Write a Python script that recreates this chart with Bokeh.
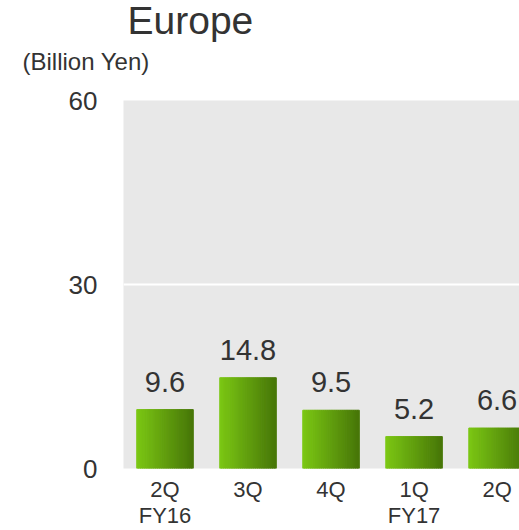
from bokeh.plotting import figure
from bokeh.models import Range1d, FixedTicker, Title, ColumnDataSource
from bokeh.embed import file_html
from bokeh.resources import INLINE

categories = ["2Q\nFY16", "3Q", "4Q", "1Q\nFY17", "2Q"]
values = [9.6, 14.8, 9.5, 5.2, 6.6]
y_ticks = [0, 30, 60]
title_text = "Europe"
unit_text = "(Billion Yen)"

FONT = "Liberation Sans"
TXT = "#333333"

# layout (pixels)
W, H = 519, 530
LEFT = 123
X0, X1, Y0, Y1 = -0.5, 4.27, 0, 60
FRAME_H = 369
px_y = FRAME_H / (Y1 - Y0)

p = figure(width=W, height=H, output_backend="svg", toolbar_location=None,
           x_range=Range1d(X0, X1), y_range=Range1d(Y0, Y1),
           min_border_left=LEFT, min_border_right=0, min_border_top=0, min_border_bottom=0,
           background_fill_color="#e8e8e8", border_fill_color="white", title=None)
p.outline_line_color = None

# gradient bars built from stripes
N = 30
bar_w = 0.68
c0 = (0x7c, 0xc8, 0x14)
c1 = (0x47, 0x76, 0x08)
xs, tops, cols = [], [], []
for i, v in enumerate(values):
    for k in range(N):
        t = (k + 0.5) / N
        xs.append(i - bar_w / 2 + bar_w * t)
        tops.append(v)
        c = tuple(int(round(c0[j] + (c1[j] - c0[j]) * t)) for j in range(3))
        cols.append("#%02x%02x%02x" % c)
src = ColumnDataSource(dict(x=xs, top=tops, color=cols))
p.vbar(x="x", top="top", width=bar_w / N * 1.05, bottom=0, color="color", source=src)

GAP = 28  # px between bar top and label anchor
lab = ColumnDataSource(dict(x=list(range(len(values))), y=[v + GAP / px_y for v in values],
                            t=[f"{v:.1f}" for v in values]))
p.text(x="x", y="y", text="t", source=lab, text_align="center", text_baseline="alphabetic",
       text_font_size="29px", text_color=TXT, text_font={"value": FONT})

p.xgrid.visible = False
p.ygrid.grid_line_color = "white"
p.ygrid.grid_line_width = 2
p.ygrid.ticker = FixedTicker(ticks=y_ticks)

p.yaxis.ticker = FixedTicker(ticks=y_ticks)
p.yaxis.axis_line_color = None
p.yaxis.major_tick_line_color = None
p.yaxis.minor_tick_line_color = None
p.yaxis.major_label_text_font_size = "26px"
p.yaxis.major_label_text_font = FONT
p.yaxis.major_label_text_color = TXT
p.yaxis.major_label_standoff = 20

p.xaxis.ticker = FixedTicker(ticks=list(range(len(categories))))
p.xaxis.major_label_overrides = {i: c for i, c in enumerate(categories)}
p.xaxis.axis_line_color = None
p.xaxis.major_tick_line_color = None
p.xaxis.minor_tick_line_color = None
p.xaxis.major_tick_out = 0
p.xaxis.major_tick_in = 0
p.xaxis.minor_tick_out = 0
p.xaxis.minor_tick_in = 0
p.xaxis.major_label_text_font_size = "22px"
p.xaxis.major_label_text_font = FONT
p.xaxis.major_label_text_color = TXT
p.xaxis.major_label_text_line_height = 1.05
p.xaxis.major_label_standoff = 8

# titles stacked above the frame: spacer (nearest frame), unit note, main title
p.add_layout(Title(text=" ", align="left", text_font_size="10px", text_font=FONT,
                   standoff=5), "above")
p.add_layout(Title(text=unit_text, align="left", offset=-101, text_font_size="24px",
                   text_font=FONT, text_color=TXT, text_font_style="normal", standoff=15), "above")
p.add_layout(Title(text=title_text, align="left", offset=4, text_font_size="39px",
                   text_font=FONT, text_color=TXT, text_font_style="normal", standoff=-7), "above")

open("out.html", "w").write(file_html(p, INLINE))
